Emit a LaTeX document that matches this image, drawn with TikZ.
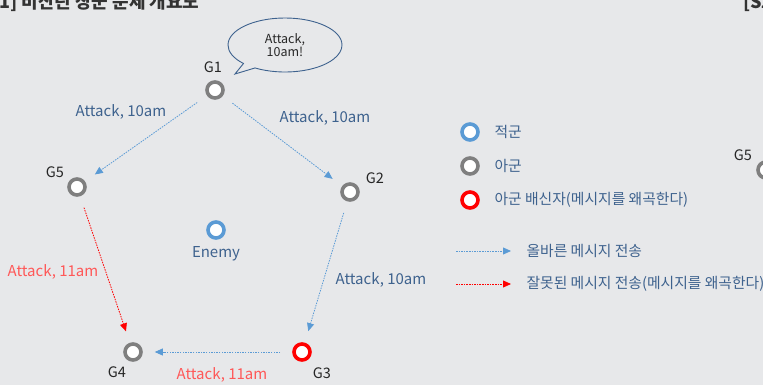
\documentclass[tikz,border=0pt]{standalone}
\usepackage{fontspec}
\setmainfont{Noto Sans CJK KR}
\usetikzlibrary{arrows.meta,shapes.callouts}

\definecolor{paper}{RGB}{231,232,234}
\definecolor{msgblue}{RGB}{91,155,213}
\definecolor{textblue}{RGB}{62,98,142}
\definecolor{softred}{RGB}{255,88,88}
\definecolor{ringgray}{RGB}{127,127,127}

\tikzset{
  general/.style={circle,draw=ringgray,fill=white,line width=3.6pt,minimum size=16pt,inner sep=0pt},
  enemy/.style={general,draw=msgblue},
  traitor/.style={general,draw=red},
  goodmsg/.style={draw=msgblue,line width=0.8pt,dash pattern=on 1.5pt off 1.1pt,
    -{Triangle[length=8pt,width=7pt]},shorten <=12pt,shorten >=12pt},
  badmsg/.style={goodmsg,draw=red},
  gname/.style={font=\fontsize{14.5}{16}\selectfont,text=black!85},
  sayblue/.style={font=\fontsize{15}{17}\selectfont,text=textblue},
  sayred/.style={font=\fontsize{15}{17}\selectfont,text=softred},
  keytext/.style={anchor=west,font=\fontsize{14.8}{17}\selectfont,text=textblue}
}

\begin{document}
\begin{tikzpicture}[x=1pt,y=-1pt]
  % the page, with its grey background
  \useasboundingbox[fill=paper] (0,0) rectangle (763,385);

  % heading lines, both cut by the upper edge
  \node[anchor=base west,inner sep=0pt,font=\fontsize{18}{20}\selectfont\bfseries,text=black!80] (heading) at (-1,9) {1] 비잔틴 장군 문제 개요도};
  \node[anchor=base west,inner sep=0pt,font=\fontsize{18}{20}\selectfont\bfseries,text=black!80] (nextheading) at (743,9) {[S2};

  % the five generals on a pentagon and the enemy in the middle
  \node[general] (g1) at (215,90) {};
  \node[general] (g2) at (350,192) {};
  \node[traitor] (g3) at (302,352) {};
  \node[general] (g4) at (133,352) {};
  \node[general] (g5) at (77,187) {};
  \node[enemy] (enemy) at (216,230) {};

  % names of the generals
  \node[gname] (g1name) at (213,67) {G1};
  \node[gname] (g2name) at (375,178) {G2};
  \node[gname] (g3name) at (322,373) {G3};
  \node[gname] (g4name) at (117,372) {G4};
  \node[gname] (g5name) at (55,172) {G5};
  \node[sayblue] (enemyname) at (216,254) {Enemy};

  % G1 shouts the order in a speech bubble
  \coordinate (shouttip) at (235,74);
  \node[ellipse callout,draw=textblue,line width=0.9pt,minimum width=114pt,minimum height=54pt,
    callout absolute pointer={(shouttip)},align=center,font=\fontsize{12.5}{13.5}\selectfont,text=black!85] (shout) at (285,45) {Attack,\\10am!};

  % the messages passed round the generals
  \draw[goodmsg] (g1) -- (g5);
  \draw[goodmsg] (g1) -- (g2);
  \draw[goodmsg] (g2) -- (g3);
  \draw[goodmsg] (g3) -- (g4);
  \draw[badmsg] (g5) -- (g4);

  % what each message says
  \node[sayblue] (say15) at (121,112) {Attack, 10am};
  \node[sayblue] (say12) at (325,118) {Attack, 10am};
  \node[sayblue] (say23) at (381,280) {Attack, 10am};
  \node[sayred] (say54) at (53,272) {Attack, 11am};
  \node[sayred] (say34) at (222,375) {Attack, 11am};

  % key: kinds of general
  \node[enemy] (keyenemy) at (470,132) {};
  \node[keytext] (keyenemytext) at (491,132) {적군};
  \node[general] (keyally) at (470,166) {};
  \node[keytext] (keyallytext) at (491,166) {아군};
  \node[traitor] (keytraitor) at (470,200) {};
  \node[keytext] (keytraitortext) at (491,200) {아군 배신자(메시지를 왜곡한다)};

  % key: kinds of message
  \coordinate (keygoodfrom) at (456,251);
  \coordinate (keygoodto) at (511,251);
  \draw[goodmsg,shorten <=0pt,shorten >=0pt] (keygoodfrom) -- (keygoodto);
  \node[keytext] (keygoodtext) at (523,251) {올바른 메시지 전송};
  \coordinate (keybadfrom) at (456,284);
  \coordinate (keybadto) at (511,284);
  \draw[badmsg,shorten <=0pt,shorten >=0pt] (keybadfrom) -- (keybadto);
  \node[keytext] (keybadtext) at (523,284) {잘못된 메시지 전송(메시지를 왜곡한다)};

  % G5 of the next diagram, cut by the right edge
  \node[gname] (nextg5name) at (743,155) {G5};
  \node[general] (nextg5) at (766,170) {};
\end{tikzpicture}
\end{document}
